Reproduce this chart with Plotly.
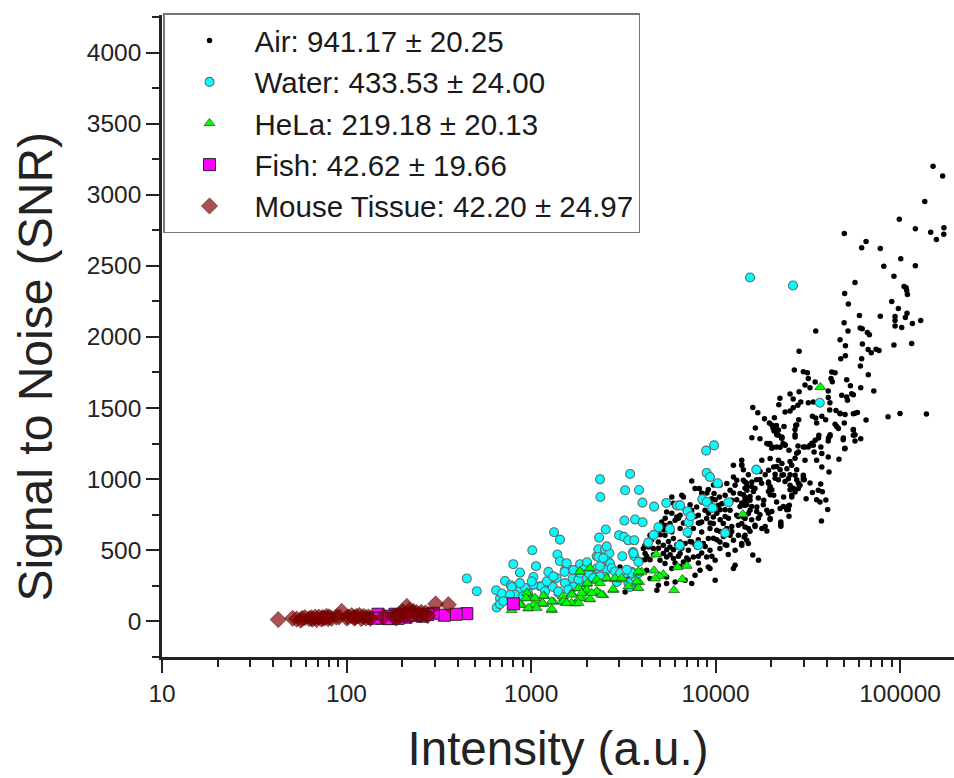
import plotly.graph_objects as go

# log10(intensity) and SNR
air_logi = [
5.179,5.231,5.134,4.996,4.698,5.083,5.166,5.238,5.237,5.197,4.816,4.792,4.893,5.004,4.912,5.083,4.967,4.756,4.700,5.022,
5.033,5.036,5.040,4.720,4.955,4.991,5.038,5.029,4.973,4.973,4.973,5.009,5.067,5.112,4.893,4.780,4.697,4.718,4.784,4.795,
4.823,4.834,4.543,4.675,4.704,4.796,4.967,5.063,4.827,4.844,4.870,4.886,4.453,4.704,4.679,4.792,4.785,4.427,4.476,4.498,
4.503,4.540,4.485,4.512,4.630,4.648,4.626,4.633,4.828,4.711,4.731,4.787,4.858,4.611,4.453,4.404,4.349,4.343,4.421,4.462,
4.446,4.421,4.404,4.377,4.503,4.530,4.611,4.620,4.684,4.711,4.738,4.747,4.715,4.619,4.653,4.675,4.702,4.747,4.769,4.816,
4.935,5.000,5.143,4.202,4.229,4.265,4.319,4.292,4.216,4.330,4.371,4.451,4.435,4.431,4.525,4.543,4.576,4.597,4.548,4.648,
4.666,4.698,4.747,4.747,4.756,4.787,4.692,4.700,4.620,4.611,4.571,4.560,4.540,4.512,4.485,4.447,4.431,4.317,4.341,4.360,
4.197,4.241,4.288,4.331,4.377,
4.669,4.615,4.576,4.512,4.570,4.557,4.579,4.525,4.491,4.548,4.566,4.598,4.608,4.574,4.476,4.481,4.458,4.431,4.413,4.398,
4.395,4.354,4.354,4.296,4.251,4.278,4.202,4.233,4.214,
4.398,4.449,4.476,4.503,4.530,4.534,4.576,4.611,4.485,4.548,4.296,4.341,4.251,4.142,4.360,4.387,4.315,4.413,4.440,4.287,
4.323,4.360,4.395,4.431,4.476,4.241,4.197,4.160,4.287,4.404,4.449,4.413,4.296,4.214,4.170,4.315,4.369,4.261,4.187,4.224,
4.278,4.331,4.350,4.400,4.395,4.296,4.354,4.178,4.151,4.178,4.142,4.178,4.155,4.142,
4.312,4.332,4.359,4.295,4.312,4.350,4.278,4.366,
3.871,3.889,3.912,3.763,3.817,3.735,3.826,3.961,3.992,4.021,4.052,4.088,4.106,4.097,4.097,4.142,4.115,4.151,4.169,4.133,
4.160,4.079,4.015,3.988,3.925,3.898,3.871,3.907,3.952,3.925,3.808,3.781,3.753,3.726,3.708,3.763,3.808,3.880,3.925,3.970,
4.007,3.988,4.042,4.115,4.160,4.124,4.160,4.124,4.160,4.169,4.024,4.079,4.061,4.024,4.069,3.961,3.934,3.970,3.853,3.772,
3.726,3.690,3.717,3.753,3.645,3.636,3.609,3.618,3.663,3.600,3.735,3.772,3.808,3.853,3.880,3.898,3.826,3.763,3.726,3.916,
3.961,3.970,3.889,3.998,4.106,4.097,3.690,3.627,3.735,3.781,3.835,3.645,
4.061,4.034,3.980,3.943,3.844,3.790,3.835,3.871,3.808,3.952,3.998,4.079,4.160,4.187,4.142,4.097,4.106,4.061,3.717,3.699,
3.510,3.519,3.482,3.564,3.618,3.682,3.735,3.871,
4.287,4.296,4.305,4.287,4.296,4.169,4.196,4.160,4.205,4.187,4.151,4.232,4.169,4.196,4.223,4.241,4.232,4.259,4.287,4.305,
4.269,4.214,4.187,4.196,4.160,4.142,4.332,4.350,4.368,4.404,4.440,4.422,4.449,4.476,4.323,4.341,4.377,4.404,4.241,4.269,
4.250,4.223,4.178,4.151,4.142,4.368,4.386,4.440,4.431,4.404,
4.305,4.323,4.341,4.332,4.377,4.359,4.305,4.431,4.440,4.522,4.558,4.612,4.621,4.657,4.693,4.702,4.756,4.747,4.756,4.675,
3.772,3.862,3.889,3.916,3.944,3.971,3.989,4.025,4.052,3.998,4.061,4.097,4.115,4.133,3.925,3.953,3.989,4.025,3.826,3.853,
3.799,3.754,3.718,3.673,3.654,3.627,3.700,3.736,3.754,3.799,3.844,3.889,3.925,3.944,4.007,4.043,4.025,3.989,4.088,4.088,
4.151,4.124,4.178,4.052,3.980,
3.781,3.808,3.835,3.862,3.907,3.962,4.007,3.971,4.025,4.052,4.070,3.745,3.790,3.817,3.862,3.907,3.691,3.664,3.627,3.618,
3.645,3.772,3.853,3.907,3.781,3.808,3.907,3.727,3.763]
air_snr = [
3200,3133,2953,2828,2728,2761,2737,2768,2723,2685,2671,2627,2622,2550,2498,2500,2427,2383,2306,2355,
2346,2327,2299,2231,2250,2200,2167,2137,2144,2116,2076,2067,2095,2116,2146,2151,2100,2041,2062,2058,
2032,2015,2041,1980,1938,1950,1943,1954,1912,1889,1914,1905,1900,1868,1847,1847,1795,1767,1755,1748,
1708,1682,1661,1643,1753,1748,1708,1685,1734,1699,1657,1643,1619,1619,1615,1598,1568,1523,1563,1542,
1519,1502,1478,1471,1537,1542,1573,1537,1589,1577,1601,1594,1554,1486,1483,1460,1455,1460,1469,1415,
1439,1462,1458,1504,1467,1425,1432,1394,1359,1376,1369,1418,1378,1348,1441,1429,1441,1418,1394,1385,
1355,1394,1348,1308,1268,1284,1277,1214,1301,1268,1225,1308,1273,1238,1225,1232,1296,1338,1308,1296,
1291,1284,1244,1225,1238,
1139,1050,1085,972,965,921,911,905,862,855,839,853,785,705,1026,996,956,909,874,738,
808,682,668,715,652,635,466,429,675,
1202,1190,1226,1226,1237,1190,1179,1155,1132,1132,1144,1132,1132,1132,1109,1073,1085,1097,1066,1062,
1033,1026,1003,1026,1014,996,979,979,979,956,933,886,933,933,921,886,874,851,851,804,
780,839,792,815,785,722,698,757,733,652,687,546,593,546,
1357,1322,1287,1251,1223,1223,1251,1251,
986,933,933,874,886,768,874,926,898,874,886,851,956,1014,1097,1097,991,991,944,898,
874,780,815,733,839,804,780,745,722,698,745,710,687,675,698,628,652,652,628,652,
640,687,687,745,722,675,663,605,605,569,557,605,534,511,469,581,546,499,605,581,
605,557,534,522,605,522,511,476,511,429,452,441,476,499,452,522,417,370,406,359,
382,370,323,288,394,370,253,359,311,276,288,300,
968,827,862,780,687,733,546,557,557,452,429,921,815,780,534,569,499,652,476,429,
206,311,382,464,534,218,265,265,
971,948,924,913,889,971,948,936,913,878,889,866,819,807,772,749,725,819,760,772,
667,667,632,714,854,831,1088,1065,1030,1030,995,936,971,995,1006,995,983,924,1053,1030,
971,995,1030,1065,1100,807,784,1182,1147,1124,
1381,1358,1346,1311,1241,1288,1217,1311,1381,1252,1288,1288,1311,1370,1288,1217,1311,1346,1463,1463,
830,819,737,690,830,830,795,784,784,854,830,901,854,807,901,901,959,959,690,725,
725,655,643,608,573,538,608,502,467,456,444,538,479,526,573,596,631,584,666,631,
819,737,854,538,456,
807,830,784,748,690,760,760,690,713,737,725,561,538,514,561,573,514,467,456,432,
432,502,432,456,409,385,409,725,760]

water_logi = [
2.652,2.706,2.811,2.832,2.814,2.832,2.859,2.890,2.904,2.940,2.899,2.940,2.977,3.007,3.027,3.013,3.004,3.049,3.094,3.130,
3.085,3.118,3.149,3.125,3.157,3.143,3.157,3.184,3.226,3.226,3.266,3.302,3.257,3.311,3.356,3.369,3.405,3.374,3.376,3.365,
3.401,3.425,3.420,3.410,3.356,3.510,3.537,3.585,3.604,3.667,3.733,3.793,3.808,3.506,3.564,3.605,3.477,3.504,3.527,3.560,
3.495,3.553,3.560,3.582,3.690,3.665,3.635,3.753,3.806,3.907,3.848,3.855,3.848,3.866,3.928,3.952,3.983,4.052,4.070,3.952,
3.970,4.012,3.949,3.992,3.546,3.582,3.510,3.465,3.401,3.537,3.356,3.302,3.193,4.187,4.420,4.565,4.221,
3.182,3.230,3.304,3.365,3.429,3.230,3.275,2.895,2.940,2.985,2.842,
2.913,2.968,3.013,3.058,3.085,3.139,3.184,3.202,3.257,3.284,3.311,3.338,3.374,3.392,3.437,3.455,3.483,3.546,3.555,3.564,
3.519,3.410,3.528,3.374,3.266,3.121,3.004,2.940,2.886,2.850,2.958,3.148,3.076]
water_snr = [
300,211,218,160,96,120,283,253,401,342,195,195,218,499,387,311,253,246,347,304,
272,241,199,626,574,469,422,359,359,300,401,406,288,347,457,588,645,998,874,506,
506,480,417,363,370,921,1036,923,834,806,832,813,815,708,715,696,605,593,569,569,
457,487,457,417,661,607,553,649,532,534,626,696,773,738,858,839,797,621,837,1043,
1014,970,1200,1237,347,337,337,276,311,241,311,302,408,2418,2362,1537,1066,
347,359,415,452,406,241,241,241,218,195,195,
186,233,257,245,280,304,268,222,292,362,339,304,386,444,374,350,339,339,479,280,
362,526,268,315,339,315,280,268,186,140,175,210,210]

hela_logi = [
4.148,4.568,3.678,3.795,3.844,3.820,3.775,3.667,3.717,3.696,3.673,3.582,3.600,3.587,3.579,3.492,3.456,3.410,3.446,3.320,
3.266,3.302,3.351,3.257,3.293,3.361,3.392,3.320,3.221,3.176,3.239,3.185,3.122,3.113,3.073,3.067,3.013,2.980,2.980,2.985,
3.031,2.950,2.895,3.374,3.284,
2.977,2.973,3.022,3.013,3.067,3.063,2.986,3.112,3.112,3.172,3.220,3.175,3.220,3.257,3.266,3.320,3.305,3.302,3.356,3.356,
3.320,3.266,3.410,3.455,3.492,3.446,3.383,3.582,3.573,3.582,3.528,3.257,2.940,3.031,3.374,3.193,3.275,3.329]
hela_snr = [
752,1647,469,380,389,295,218,356,330,316,300,340,347,274,234,293,295,300,218,370,
347,260,281,230,206,206,183,153,195,160,124,129,136,77,176,120,112,199,160,89,
148,112,77,195,160,
198,163,163,116,179,128,93,140,86,175,186,140,128,233,350,374,268,222,292,210,
156,163,304,304,304,226,186,350,280,233,245,128,116,93,268,128,198,198]

fish_logi = [2.904,2.652,2.594,2.530,2.470,2.410,2.344,2.318,2.263,2.236,2.193,2.171,2.155,2.280,2.230,2.380,2.440,2.300,2.360]
fish_snr = [122,53,49,42,56,35,56,28,49,35,21,49,21,20,18,42,48,38,44]

mouse_logi = [1.630,1.708,1.752,1.798,1.838,1.865,1.892,1.919,1.974,2.001,2.028,2.055,2.092,2.119,2.255,2.304,2.327,2.363,2.380,2.428,
2.483,2.552,1.730,1.775,1.815,1.850,1.880,1.905,1.945,2.040,2.070,2.105,2.280,2.340,2.405,
1.760,1.810,1.830,1.870,1.900,1.960,2.010,2.045,2.080,2.130,2.270,2.290,2.320,2.350,2.400,2.440,2.200]
mouse_snr = [11,20,8,18,11,15,34,20,69,22,39,34,34,30,34,69,104,69,60,58,
121,116,15,25,14,28,22,30,28,26,40,24,45,75,62,
20,24,28,26,18,30,30,22,18,20,22,40,50,38,45,40,30]

series_names = ["Air: 941.17 ± 20.25","Water: 433.53 ± 24.00","HeLa: 219.18 ± 20.13",
                "Fish: 42.62 ± 19.66","Mouse Tissue: 42.20 ± 24.97"]
y_title = "Signal to Noise (SNR)"
x_title = "Intensity (a.u.)"

FONT = "Liberation Sans"
INK = "#222222"

def intens(v):
    return [10 ** a for a in v]

fig = go.Figure()
styles = [
    (air_logi, air_snr, dict(symbol="circle", size=5.5, color="#000000", line=dict(width=0))),
    (water_logi, water_snr, dict(symbol="circle", size=9, color="#00FFFF", line=dict(width=1.1, color="#607070"))),
    (hela_logi, hela_snr, dict(symbol="triangle-up", size=9.5, color="#00FF00", line=dict(width=0.8, color="#2a5a2a"))),
    (fish_logi, fish_snr, dict(symbol="square", size=12, color="#FF00FF", line=dict(width=1, color="#222222"))),
    (mouse_logi, mouse_snr, dict(symbol="diamond", size=12.5, color="rgba(128,0,0,0.68)", line=dict(width=0.8, color="rgba(70,0,0,0.6)"))),
]
for name, (xs, ys, mk) in zip(series_names, styles):
    fig.add_trace(go.Scatter(x=intens(xs), y=ys, mode="markers", name=name, marker=mk))

fig.update_layout(
    width=954, height=778,
    margin=dict(l=162, r=0, t=15, b=121),
    paper_bgcolor="white", plot_bgcolor="white",
    font=dict(family=FONT, color=INK),
    legend=dict(
        x=0.0013, y=1.0025, xanchor="left", yanchor="top",
        font=dict(family=FONT, size=29.5, color="#1a1a1a"),
        bordercolor="#777777", borderwidth=1.5, bgcolor="white",
        itemwidth=80, itemsizing="trace",
    ),
    xaxis=dict(
        type="log", range=[1, 5.2925], dtick=1, tick0=0, tickformat="d",
        showgrid=False, zeroline=False, showline=True, linecolor=INK, linewidth=2.5,
        ticks="outside", ticklen=13, tickwidth=2, tickcolor=INK,
        tickfont=dict(size=24.5, family=FONT, color=INK),
        minor=dict(ticks="outside", ticklen=7, tickwidth=2, tickcolor=INK, dtick="D1", showgrid=False),
        title=dict(text=x_title, font=dict(size=47.5, family=FONT, color=INK), standoff=26),
    ),
    yaxis=dict(
        range=[-252, 4265], tick0=0, dtick=500,
        showgrid=False, zeroline=False, showline=True, linecolor=INK, linewidth=2.5,
        ticks="outside", ticklen=13, tickwidth=2, tickcolor=INK,
        tickfont=dict(size=24.5, family=FONT, color=INK),
        minor=dict(ticks="outside", ticklen=7, tickwidth=2, tickcolor=INK, tick0=250, dtick=500, showgrid=False),
    ),
    annotations=[dict(
        text=y_title, textangle=-90, xref="paper", yref="paper",
        x=-0.160, y=0.453, xanchor="center", yanchor="middle", showarrow=False,
        font=dict(size=48, family=FONT, color=INK),
    )],
)

fig.write_html("out.html", config=dict(displayModeBar=False),
               post_script="document.body.style.margin='0';document.documentElement.style.overflow='hidden';")
